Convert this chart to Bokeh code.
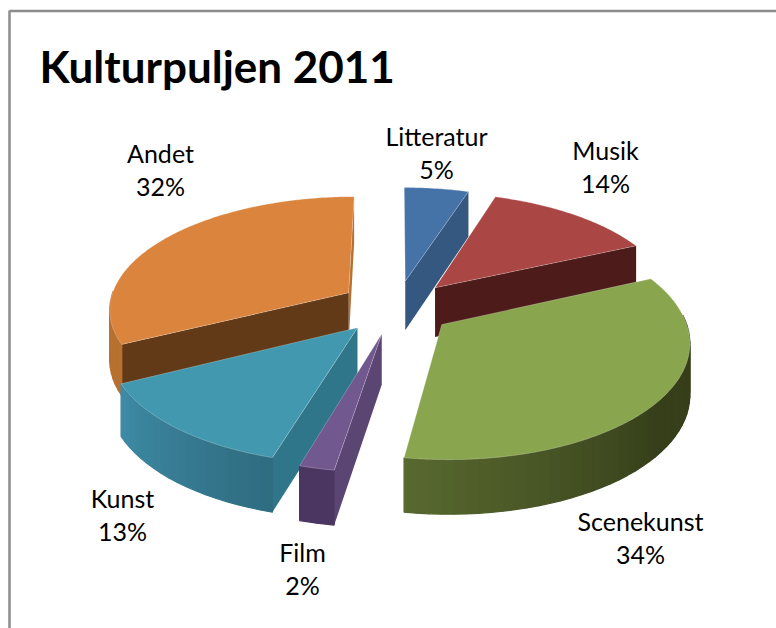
import numpy as np
from bokeh.plotting import figure
from bokeh.models import Range1d
from bokeh.embed import file_html
from bokeh.resources import INLINE
from bokeh.core.properties import value

categories = ["Litteratur", "Musik", "Scenekunst", "Film", "Kunst", "Andet"]
values = [5, 14, 34, 2, 13, 32]
percent_labels = ["5%", "14%", "34%", "2%", "13%", "32%"]
title = "Kulturpuljen 2011"

top_colors = ["#4572a7", "#aa4643", "#89a54e", "#71588f", "#4198af", "#db843d"]
wall_colors = ["#34587f", "#4c1b1a", "#3c4620", "#5b4572", "#30768a", "#633a18"]
rim_light = ["#34587f", "#4c1b1a", "#58692f", "#4a3660", "#3e8ba6", "#b87030"]
rim_dark = ["#34587f", "#4c1b1a", "#363f1a", "#4a3660", "#2f6c80", "#b87030"]
label_x = [436, 605, 640, 302, 122, 160]
label_y = [135, 149, 520, 551, 497, 152]
draw_order = [0, 1, 5, 2, 4, 3]

CX, CY = 396.0, 306.5
RX, KY, D, EXPLODE = 240.0, 112.3, 7.6, 0.24


def warp(deg):
    return np.asarray(deg) - np.interp(deg, [0, 20, 60, 190, 200, 245, 360],
                                       [0, 0, 2.8, 1.7, 1.7, 1.4, 0])


def project(a_deg, r, mid_deg, z=0.0):
    a = np.radians(warp(a_deg))
    m = np.radians(mid_deg)
    X = r * np.sin(a) + EXPLODE * np.sin(m)
    Y = r * np.cos(a) + EXPLODE * np.cos(m)
    s = D / (D + Y)
    x = CX + X * RX * s
    y = CY - Y * KY * s + z * 50.0 * (1 - 0.08 * Y)
    return x, y


def mix(c1, c2, t):
    a = [int(c1[i:i + 2], 16) for i in (1, 3, 5)]
    b = [int(c2[i:i + 2], 16) for i in (1, 3, 5)]
    return "#%02x%02x%02x" % tuple(int(round(u + (v - u) * t)) for u, v in zip(a, b))


p = figure(width=776, height=628, output_backend="svg", toolbar_location=None,
           x_range=Range1d(0, 776), y_range=Range1d(628, 0), min_border=0,
           outline_line_color=None, x_axis_type=None, y_axis_type=None)
p.grid.visible = False
p.background_fill_color = "white"
p.border_fill_color = "white"

# frame
p.line([9.0, 9.0], [10, 628], line_color="#8c8c8c", line_width=2.5)
p.line([9.0, 776], [10.5, 10.5], line_color="#8c8c8c", line_width=2.5)

edges = np.cumsum([0] + values) / sum(values) * 360.0

for i in draw_order:
    a0, a1 = edges[i], edges[i + 1]
    mid = (a0 + a1) / 2
    walls = {0: [a1], 1: [a1], 5: [a1, a0], 4: [a0], 3: [a0], 2: []}[i]
    for wa in walls:
        x0, y0 = project(wa, 0.0, mid)
        x1, y1 = project(wa, 1.0, mid)
        x2, y2 = project(wa, 1.0, mid, 1.0)
        x3, y3 = project(wa, 0.0, mid, 1.0)
        col = rim_light[i] if (i == 5 and wa == a1) else wall_colors[i]
        p.patch([x0, x1, x2, x3], [y0, y1, y2, y3], fill_color=col, line_color=None)
    # outer rim
    lo, hi = max(a0, 88.0), min(a1, 272.0)
    if hi > lo:
        n = max(2, int((hi - lo) / 2.5))
        steps = np.linspace(lo, hi, n + 1)
        xa, ya = project(steps[:-1], 1.0, mid)
        xb, yb = project(steps[1:], 1.0, mid)
        xc, yc = project(steps[1:], 1.0, mid, 1.0)
        xd, yd = project(steps[:-1], 1.0, mid, 1.0)
        mids = (steps[:-1] + steps[1:]) / 2
        if i == 2:
            fr = np.clip((a1 - mids) / 60.0, 0, 1)
        else:
            fr = 1 - (mids - a0) / (a1 - a0)
        cols = [mix(rim_light[i], rim_dark[i], float(f)) for f in fr]
        p.patches([[u, v, w, q] for u, v, w, q in zip(xa, xb, xc, xd)],
                  [[u, v, w, q] for u, v, w, q in zip(ya, yb, yc, yd)],
                  fill_color=cols, line_color=cols, line_width=1.2)
    # top
    arc = np.linspace(a0, a1, max(3, int((a1 - a0) * 2)))
    xs, ys = project(arc, 1.0, mid)
    xt, yt = project(mid, 0.0, mid)
    p.patch(list(xs) + [float(xt)], list(ys) + [float(yt)], fill_color=top_colors[i],
            line_color="white", line_alpha=0.4, line_width=0.6)

# labels
for name, pct, lx, ly in zip(categories, percent_labels, label_x, label_y):
    p.text([lx], [ly], text=[name], text_font=value("Lato"), text_font_size="25px",
           text_color="black", text_align="center", text_baseline="middle")
    p.text([lx], [ly + 33], text=[pct], text_font=value("Lato"), text_font_size="25px",
           text_color="black", text_align="center", text_baseline="middle")

p.text([39], [65], text=[title], text_font=value("Lato"), text_font_size="44px",
       text_font_style="bold", text_color="black", text_align="left", text_baseline="middle")

open("out.html", "w").write(file_html(p, INLINE))
